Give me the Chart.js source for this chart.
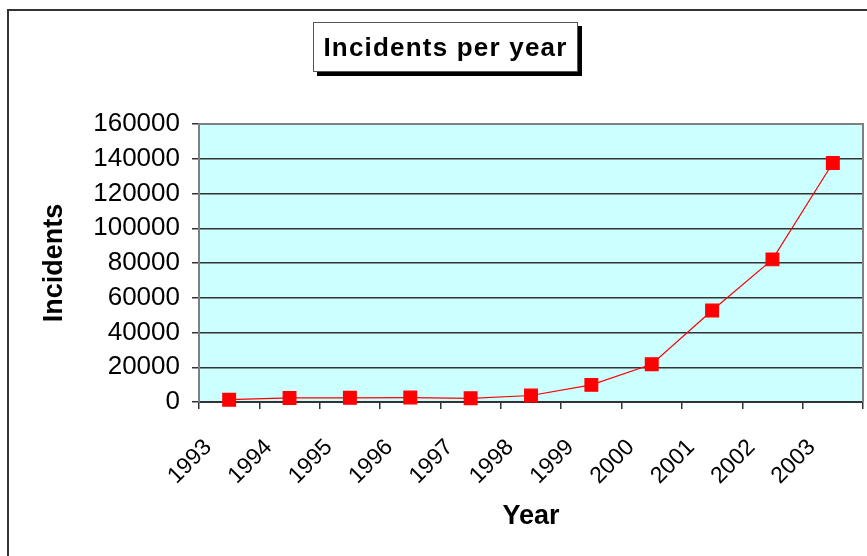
<!DOCTYPE html>
<html>
<head>
<meta charset="utf-8">
<script src="https://cdn.jsdelivr.net/npm/chart.js@4"></script>
<style>
  html, body { margin: 0; padding: 0; background: #fff; }
  #wrap { position: relative; width: 867px; height: 556px; overflow: hidden; }
  #frame { position: absolute; left: 7px; top: 9px; width: 900px; height: 600px; border: 2px solid #333; }
  #title {
    position: absolute; left: 313px; top: 22px; width: 263px; height: 48px;
    border: 1px solid #555; background: #fff; box-shadow: 4px 4px 0 #000;
    font: bold 26px Arial, "Liberation Sans", sans-serif; letter-spacing: 1.2px;
    text-align: center; line-height: 48px; white-space: nowrap;
  }
  canvas { position: absolute; left: 0; top: 0; }
</style>
</head>
<body>
<div id="wrap">
  <div id="frame"></div>
  <canvas id="chart" width="867" height="556"></canvas>
  <div id="title">Incidents per year</div>
</div>
<script>
const years = ['1993','1994','1995','1996','1997','1998','1999','2000','2001','2002','2003'];
const incidents = [1334, 2340, 2412, 2573, 2134, 3734, 9859, 21756, 52658, 82094, 137529];
const yTicks = [0, 20000, 40000, 60000, 80000, 100000, 120000, 140000, 160000];

const FONT = 'Arial, "Liberation Sans", sans-serif';

// cyan plot background + grey plot border
const plotArea = {
    id: 'plotArea',
    beforeDraw(chart) {
        const { ctx, chartArea: a } = chart;
        ctx.save();
        ctx.fillStyle = '#ccffff';
        ctx.fillRect(a.left, a.top, a.width, a.height);
        ctx.restore();
    },
    afterDatasetsDraw(chart) {
        const { ctx, chartArea: a } = chart;
        ctx.save();
        ctx.strokeStyle = '#808080';
        ctx.lineWidth = 2;
        ctx.beginPath();
        ctx.moveTo(a.left, a.top);
        ctx.lineTo(a.right, a.top);
        ctx.lineTo(a.right, a.bottom);
        ctx.stroke();
        ctx.restore();
    }
};

new Chart(document.getElementById('chart'), {
    type: 'line',
    data: {
        labels: years,
        datasets: [{
            label: 'Incidents',
            data: incidents,
            borderColor: '#ff0000',
            backgroundColor: '#ff0000',
            borderWidth: 1.2,
            pointStyle: 'rect',
            pointRadius: 9,
            pointHoverRadius: 9,
            tension: 0,
            clip: false
        }]
    },
    options: {
        responsive: false,
        animation: false,
        events: [],
        // autoPadding off so the point radius does not eat into the plot area
        layout: { autoPadding: false, padding: { left: 36, top: 124, right: 4, bottom: 23 } },
        plugins: {
            legend: { display: false },
            tooltip: { enabled: false }
        },
        scales: {
            x: {
                offset: true,
                grid: { offset: true, drawOnChartArea: false, color: '#333', tickLength: 7, lineWidth: 1.5 },
                border: { color: '#333', width: 2 },
                ticks: {
                    color: '#000', font: { family: FONT, size: 23 },
                    minRotation: 45, maxRotation: 45, autoSkip: false,
                    labelOffset: -21, padding: 25
                },
                title: { display: true, text: 'Year', color: '#000', font: { family: FONT, size: 27, weight: 'bold' }, padding: 0 },
                afterFit(scale) {
                    scale.height = 556 - 402 - 23;
                    scale.paddingLeft = 0;
                    scale.paddingRight = 0;
                }
            },
            y: {
                min: 0, max: 160000,
                afterBuildTicks(scale) { scale.ticks = yTicks.map(v => ({ value: v })); },
                grid: { color: '#333', lineWidth: 1.5, tickLength: 7 },
                border: { color: '#808080', width: 2 },
                ticks: { color: '#000', font: { family: FONT, size: 26 }, padding: 12, callback: v => String(v) },
                title: { display: true, text: 'Incidents', color: '#000', font: { family: FONT, size: 27, weight: 'bold' }, padding: 2 },
                afterFit(scale) { scale.width = 199 - 36; }
            }
        }
    },
    plugins: [plotArea]
});
</script>
</body>
</html>
